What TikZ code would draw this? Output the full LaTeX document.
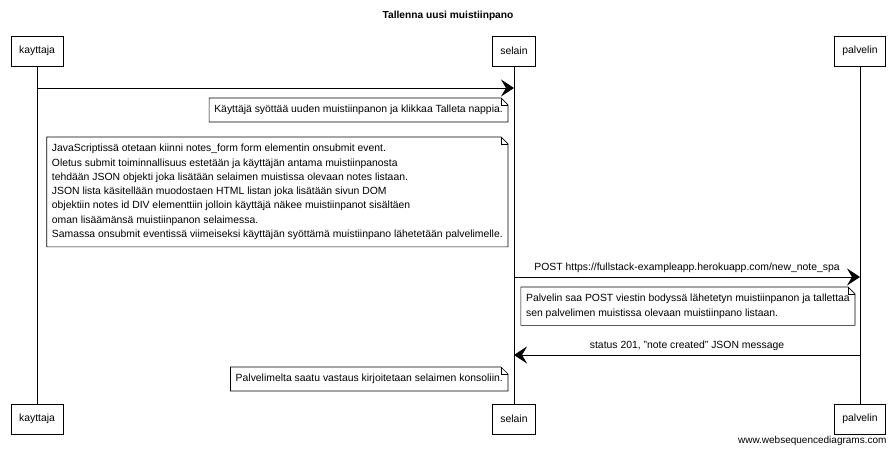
\documentclass[tikz,border=0pt]{standalone}
\usepackage{fontspec}
\setmainfont{Liberation Sans}
\usepackage{tikz}
\usetikzlibrary{arrows.meta}

\tikzset{
  party/.style={draw, fill=white, line width=.8pt, minimum height=30pt, inner xsep=8pt},
  note/.style={align=left, inner xsep=5pt, inner ysep=7pt},
  msg/.style={line width=.8pt, -{Stealth[length=13pt,width=17pt,inset=5pt]}},
  life/.style={line width=.7pt}
}
\newcommand{\foldnote}[1]{
  \draw[line width=.7pt] (#1.north west) -- ([xshift=-7pt]#1.north east) -- ([yshift=-7pt]#1.north east) -- (#1.south east) -- (#1.south west) -- cycle;
  \draw[line width=.5pt] ([xshift=-7pt]#1.north east) |- ([yshift=-7pt]#1.north east);
}

\begin{document}
\begin{tikzpicture}[x=1pt, y=-1pt, font=\fontsize{10.4}{14.3}\selectfont]
			\useasboundingbox (0,0) rectangle (896,452);
			\node[font=\fontsize{10.2}{13}\selectfont\bfseries] (title) at (448,16) {Tallenna uusi muistiinpano};
			% osallistujat
			\node[party] (k1) at (37,51) {kayttaja};
			\node[party] (s1) at (514,51) {selain};
			\node[party] (p1) at (860,51) {palvelin};
			\node[party] (k2) at (37,419) {kayttaja};
			\node[party] (s2) at (514,419) {selain};
			\node[party] (p2) at (860,419) {palvelin};
			\draw [life] (k1) -- (k2);
			\draw [life] (s1) -- (s2);
			\draw [life] (p1) -- (p2);
			% viestit
			\coordinate (m1) at (0,88);
			\coordinate (m2) at (0,277);
			\coordinate (m3) at (0,355);
			\draw [msg] (k1 |- m1) -- (s1 |- m1);
			\draw [msg] (s1 |- m2) -- (p1 |- m2) node[pos=.5, above=1pt] {POST https://fullstack-exampleapp.herokuapp.com/new\_note\_spa};
			\draw [msg] (p1 |- m3) -- (s1 |- m3) node[pos=.5, above=1pt] {status 201, "note created" JSON message};
			% muistiinpanot
			\node[note, anchor=north east] (n1) at (508,98) {Käyttäjä syöttää uuden muistiinpanon ja klikkaa Talleta nappia.};
			\foldnote{n1}
			\node[note, anchor=north east] (n2) at (508,137) {JavaScriptissä otetaan kiinni notes\_form form elementin onsubmit event.\\
				Oletus submit toiminnallisuus estetään ja käyttäjän antama muistiinpanosta\\
				tehdään JSON objekti joka lisätään selaimen muistissa olevaan notes listaan.\\
				JSON lista käsitellään muodostaen HTML listan joka lisätään sivun DOM\\
				objektiin notes id DIV elementtiin jolloin käyttäjä näkee muistiinpanot sisältäen\\
				oman lisäämänsä muistiinpanon selaimessa.\\
				Samassa onsubmit eventissä viimeiseksi käyttäjän syöttämä muistiinpano lähetetään palvelimelle.};
			\foldnote{n2}
			\node[note, anchor=north east] (n3) at (855,287) {Palvelin saa POST viestin bodyssä lähetetyn muistiinpanon ja tallettaa\\
				sen palvelimen muistissa olevaan muistiinpano listaan.};
			\foldnote{n3}
			\node[note, anchor=north east] (n4) at (508,367) {Palvelimelta saatu vastaus kirjoitetaan selaimen konsoliin.};
			\foldnote{n4}
			\node[anchor=east, font=\fontsize{10}{12}\selectfont] (wsd) at (890,441) {www.websequencediagrams.com};
		\end{tikzpicture}
\end{document}
